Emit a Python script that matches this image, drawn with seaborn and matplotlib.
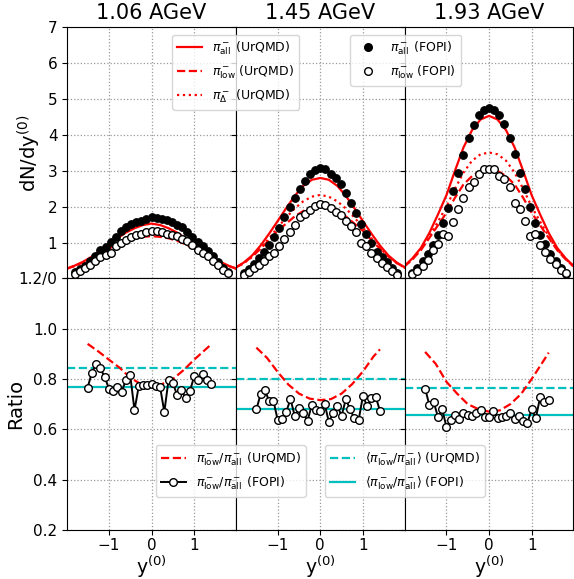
import matplotlib
matplotlib.use("Agg")
import matplotlib.pyplot as plt
from matplotlib.lines import Line2D
import seaborn as sns

# ======== DATA ========
ENERGIES = ["1.06 AGeV", "1.45 AGeV", "1.93 AGeV"]

# UrQMD rapidity grid (top row)
Y_MODEL = [-2.0, -1.8, -1.6, -1.4, -1.2, -1.0, -0.8, -0.6, -0.4, -0.2, 0.0,
           0.2, 0.4, 0.6, 0.8, 1.0, 1.2, 1.4, 1.6, 1.8, 2.0]

URQMD_ALL = [
    [0.27, 0.36, 0.47, 0.61, 0.78, 0.95, 1.12, 1.28, 1.40, 1.49, 1.53,
     1.49, 1.40, 1.28, 1.12, 0.95, 0.78, 0.61, 0.47, 0.36, 0.27],
    [0.30, 0.44, 0.64, 0.92, 1.25, 1.60, 1.96, 2.30, 2.58, 2.75, 2.80,
     2.75, 2.58, 2.30, 1.96, 1.60, 1.25, 0.92, 0.64, 0.44, 0.30],
    [0.33, 0.56, 0.85, 1.27, 1.78, 2.32, 3.00, 3.65, 4.13, 4.43, 4.53,
     4.43, 4.13, 3.65, 3.00, 2.32, 1.78, 1.27, 0.85, 0.56, 0.33],
]
URQMD_LOW = [
    [0.27, 0.35, 0.45, 0.57, 0.70, 0.83, 0.95, 1.05, 1.12, 1.16, 1.18,
     1.16, 1.12, 1.05, 0.95, 0.83, 0.70, 0.57, 0.45, 0.35, 0.27],
    [0.29, 0.43, 0.61, 0.83, 1.07, 1.33, 1.53, 1.73, 1.88, 1.97, 2.00,
     1.97, 1.88, 1.73, 1.53, 1.33, 1.07, 0.83, 0.61, 0.43, 0.29],
    [0.32, 0.53, 0.79, 1.13, 1.48, 1.83, 2.25, 2.62, 2.85, 3.00, 3.04,
     3.00, 2.85, 2.62, 2.25, 1.83, 1.48, 1.13, 0.79, 0.53, 0.32],
]
URQMD_DELTA = [
    [0.27, 0.35, 0.46, 0.58, 0.72, 0.86, 0.99, 1.10, 1.18, 1.23, 1.25,
     1.23, 1.18, 1.10, 0.99, 0.86, 0.72, 0.58, 0.46, 0.35, 0.27],
    [0.29, 0.42, 0.60, 0.85, 1.12, 1.42, 1.70, 1.95, 2.15, 2.28, 2.33,
     2.28, 2.15, 1.95, 1.70, 1.42, 1.12, 0.85, 0.60, 0.42, 0.29],
    [0.32, 0.54, 0.81, 1.18, 1.58, 2.00, 2.50, 2.95, 3.28, 3.46, 3.51,
     3.46, 3.28, 2.95, 2.50, 2.00, 1.58, 1.18, 0.81, 0.54, 0.32],
]

# FOPI rapidity grid (top row)
Y_DATA = [-1.8, -1.68, -1.56, -1.44, -1.32, -1.2, -1.08, -0.96, -0.84, -0.72,
          -0.6, -0.48, -0.36, -0.24, -0.12, 0.0, 0.12, 0.24, 0.36, 0.48, 0.6,
          0.72, 0.84, 0.96, 1.08, 1.2, 1.32, 1.44, 1.56, 1.68, 1.8]

FOPI_ALL = [
    [0.18, 0.27, 0.36, 0.50, 0.64, 0.78, 0.87, 1.01, 1.15, 1.33, 1.43, 1.52,
     1.56, 1.61, 1.65, 1.70, 1.68, 1.65, 1.63, 1.57, 1.50, 1.43, 1.30, 1.15,
     1.03, 0.90, 0.76, 0.62, 0.45, 0.30, 0.18],
    [0.15, 0.26, 0.40, 0.57, 0.74, 0.93, 1.16, 1.40, 1.70, 1.98, 2.24, 2.50,
     2.72, 2.90, 3.02, 3.07, 3.04, 2.92, 2.80, 2.62, 2.38, 2.10, 1.83, 1.52,
     1.25, 1.00, 0.75, 0.60, 0.45, 0.30, 0.15],
    [0.15, 0.30, 0.48, 0.68, 0.93, 1.22, 1.55, 1.95, 2.45, 2.95, 3.45, 3.90,
     4.28, 4.55, 4.70, 4.74, 4.70, 4.55, 4.30, 3.92, 3.48, 2.95, 2.48, 1.98,
     1.55, 1.22, 0.95, 0.68, 0.48, 0.30, 0.12],
]
FOPI_LOW = [
    [0.13, 0.20, 0.28, 0.38, 0.48, 0.60, 0.65, 0.70, 0.90, 1.00, 1.08, 1.15,
     1.20, 1.25, 1.30, 1.32, 1.32, 1.30, 1.25, 1.20, 1.18, 1.10, 1.05, 0.92,
     0.80, 0.72, 0.62, 0.50, 0.38, 0.25, 0.14],
    [0.11, 0.19, 0.28, 0.38, 0.50, 0.62, 0.72, 0.90, 1.10, 1.30, 1.50, 1.72,
     1.80, 1.92, 2.03, 2.07, 2.05, 1.97, 1.85, 1.78, 1.60, 1.45, 1.30, 1.00,
     0.90, 0.70, 0.58, 0.44, 0.32, 0.21, 0.11],
    [0.12, 0.22, 0.36, 0.52, 0.78, 0.95, 1.24, 1.19, 1.56, 1.93, 2.25, 2.54,
     2.68, 2.90, 3.05, 3.05, 3.05, 2.86, 2.77, 2.54, 2.10, 1.93, 1.61, 1.19,
     1.24, 0.93, 0.75, 0.55, 0.40, 0.25, 0.14],
]

# ratio row
Y_RATIO_MODEL = [-1.5, -1.25, -1.0, -0.75, -0.5, -0.25, 0.0, 0.25, 0.5, 0.75,
                 1.0, 1.25, 1.4]
RATIO_URQMD = [
    [0.940, 0.910, 0.877, 0.845, 0.805, 0.780, 0.773, 0.780, 0.800, 0.835,
     0.877, 0.915, 0.938],
    [0.925, 0.884, 0.828, 0.778, 0.742, 0.722, 0.716, 0.720, 0.742, 0.780,
     0.830, 0.890, 0.918],
    [0.908, 0.860, 0.789, 0.742, 0.700, 0.680, 0.670, 0.675, 0.700, 0.740,
     0.800, 0.865, 0.905],
]

Y_RATIO = [-1.5, -1.4, -1.3, -1.2, -1.1, -1.0, -0.9, -0.8, -0.7, -0.6, -0.5,
           -0.4, -0.3, -0.2, -0.1, 0.0, 0.1, 0.2, 0.3, 0.4, 0.5, 0.6, 0.7,
           0.8, 0.9, 1.0, 1.1, 1.2, 1.3, 1.4]
RATIO_FOPI = [
    [0.766, 0.825, 0.861, 0.842, 0.808, 0.762, 0.751, 0.769, 0.749, 0.798,
     0.815, 0.676, 0.771, 0.778, 0.778, 0.779, 0.771, 0.769, 0.669, 0.798,
     0.785, 0.736, 0.755, 0.723, 0.751, 0.811, 0.798, 0.818, 0.798, 0.782],
    [0.679, 0.740, 0.756, 0.712, 0.714, 0.637, 0.639, 0.669, 0.720, 0.654,
     0.683, 0.663, 0.634, 0.696, 0.676, 0.674, 0.702, 0.630, 0.663, 0.692,
     0.654, 0.720, 0.679, 0.643, 0.637, 0.732, 0.692, 0.723, 0.729, 0.674],
    [0.762, 0.696, 0.709, 0.650, 0.679, 0.610, 0.637, 0.657, 0.640, 0.663,
     0.657, 0.654, 0.663, 0.676, 0.650, 0.650, 0.674, 0.643, 0.650, 0.654,
     0.666, 0.640, 0.653, 0.633, 0.626, 0.679, 0.646, 0.729, 0.709, 0.718],
]

MEAN_URQMD = [0.842, 0.800, 0.766]
MEAN_FOPI = [0.769, 0.679, 0.658]

TOP_TICKS = [0, 1, 2, 3, 4, 5, 6, 7]
TOP_LABELS = ["1.2/0", "1", "2", "3", "4", "5", "6", "7"]
BOT_TICKS = [0.2, 0.4, 0.6, 0.8, 1.0, 1.2]
BOT_LABELS = ["0.2", "0.4", "0.6", "0.8", "1.0", ""]

CYAN = "#00bfbf"

# ======== FIGURE ========
fig, axes = plt.subplots(2, 3, figsize=(5.74, 5.79), dpi=100,
                         sharex="col", sharey="row")
fig.subplots_adjust(left=0.117, right=0.999, top=0.953, bottom=0.085,
                    hspace=0, wspace=0)

for i in range(3):
    ax = axes[0, i]
    sns.lineplot(x=Y_MODEL, y=URQMD_ALL[i], ax=ax, color="red", lw=1.6,
                 sort=False, zorder=2)
    sns.lineplot(x=Y_MODEL, y=URQMD_LOW[i], ax=ax, color="red", lw=1.6,
                 linestyle="--", sort=False, zorder=2)
    sns.lineplot(x=Y_MODEL, y=URQMD_DELTA[i], ax=ax, color="red", lw=1.6,
                 linestyle=":", sort=False, zorder=2)
    sns.scatterplot(x=Y_DATA, y=FOPI_ALL[i], ax=ax, color="black", s=30,
                    edgecolor="black", linewidth=0.8, zorder=3)
    sns.scatterplot(x=Y_DATA, y=FOPI_LOW[i], ax=ax, color="white", s=30,
                    edgecolor="black", linewidth=1.0, zorder=3)
    ax.set_title(ENERGIES[i], fontsize=15)

    ax = axes[1, i]
    ax.axhline(MEAN_URQMD[i], color=CYAN, lw=1.6, ls="--", zorder=1)
    ax.axhline(MEAN_FOPI[i], color=CYAN, lw=1.6, zorder=1)
    sns.lineplot(x=Y_RATIO_MODEL, y=RATIO_URQMD[i], ax=ax, color="red",
                 lw=1.6, linestyle="--", sort=False, zorder=2)
    sns.lineplot(x=Y_RATIO, y=RATIO_FOPI[i], ax=ax, color="black", lw=1.4,
                 marker="o", markersize=5.5, markerfacecolor="white",
                 markeredgecolor="black", markeredgewidth=1.0, sort=False,
                 zorder=3)

for ax in axes.flat:
    ax.grid(True, ls=":", color="0.6", lw=0.9)
    ax.set_axisbelow(True)
    ax.tick_params(labelsize=11)
    ax.set_ylabel("")

for ax in axes[1]:
    ax.set_xlim(-1.98, 1.98)
    ax.set_xticks([-1, 0, 1])
    ax.set_xticklabels(["\u22121", "0", "1"])
    ax.tick_params(axis="x", pad=2.5)
    ax.set_xlabel("y$^{(0)}$", fontsize=13.5, labelpad=0.5)

axes[0, 0].set_ylim(0, 7)
axes[0, 0].set_yticks(TOP_TICKS)
axes[0, 0].set_yticklabels(TOP_LABELS)
axes[1, 0].set_ylim(0.2, 1.2)
axes[1, 0].set_yticks(BOT_TICKS)
axes[1, 0].set_yticklabels(BOT_LABELS)
axes[0, 0].set_ylabel("dN/dy$^{(0)}$", fontsize=14)
axes[0, 0].yaxis.set_label_coords(-0.145, 0.5)
axes[1, 0].set_ylabel("Ratio", fontsize=14)
axes[1, 0].yaxis.set_label_coords(-0.25, 0.5)

# ======== LEGENDS ========
h_model = [
    Line2D([], [], color="red", lw=1.6, ls="-"),
    Line2D([], [], color="red", lw=1.6, ls="--"),
    Line2D([], [], color="red", lw=1.6, ls=":"),
]
l_model = [r"$\pi^-_{\rm all}$ (UrQMD)", r"$\pi^-_{\rm low}$ (UrQMD)",
           r"$\pi^-_{\Delta}$ (UrQMD)"]
fig.legend(h_model, l_model, loc="upper center", bbox_to_anchor=(0.411, 0.94),
           fontsize=9, borderaxespad=0)

h_data = [
    Line2D([], [], color="black", ls="none", marker="o", markersize=5.5),
    Line2D([], [], color="black", ls="none", marker="o", markersize=5.5,
           markerfacecolor="white"),
]
l_data = [r"$\pi^-_{\rm all}$ (FOPI)", r"$\pi^-_{\rm low}$ (FOPI)"]
fig.legend(h_data, l_data, loc="upper center", bbox_to_anchor=(0.707, 0.94),
           fontsize=9, borderaxespad=0)

h_ratio = [
    Line2D([], [], color="red", lw=1.6, ls="--"),
    Line2D([], [], color="black", lw=1.4, marker="o", markersize=5.5,
           markerfacecolor="white"),
]
l_ratio = [r"$\pi^-_{\rm low}/\pi^-_{\rm all}$ (UrQMD)",
           r"$\pi^-_{\rm low}/\pi^-_{\rm all}$ (FOPI)"]
fig.legend(h_ratio, l_ratio, loc="upper center", bbox_to_anchor=(0.402, 0.231),
           fontsize=9, borderaxespad=0)

h_mean = [
    Line2D([], [], color=CYAN, lw=1.6, ls="--"),
    Line2D([], [], color=CYAN, lw=1.6, ls="-"),
]
l_mean = [r"$\langle\pi^-_{\rm low}/\pi^-_{\rm all}\rangle$ (UrQMD)",
          r"$\langle\pi^-_{\rm low}/\pi^-_{\rm all}\rangle$ (FOPI)"]
fig.legend(h_mean, l_mean, loc="upper center", bbox_to_anchor=(0.705, 0.231),
           fontsize=9, borderaxespad=0)

plt.savefig("out.png", dpi=100)
plt.close()
